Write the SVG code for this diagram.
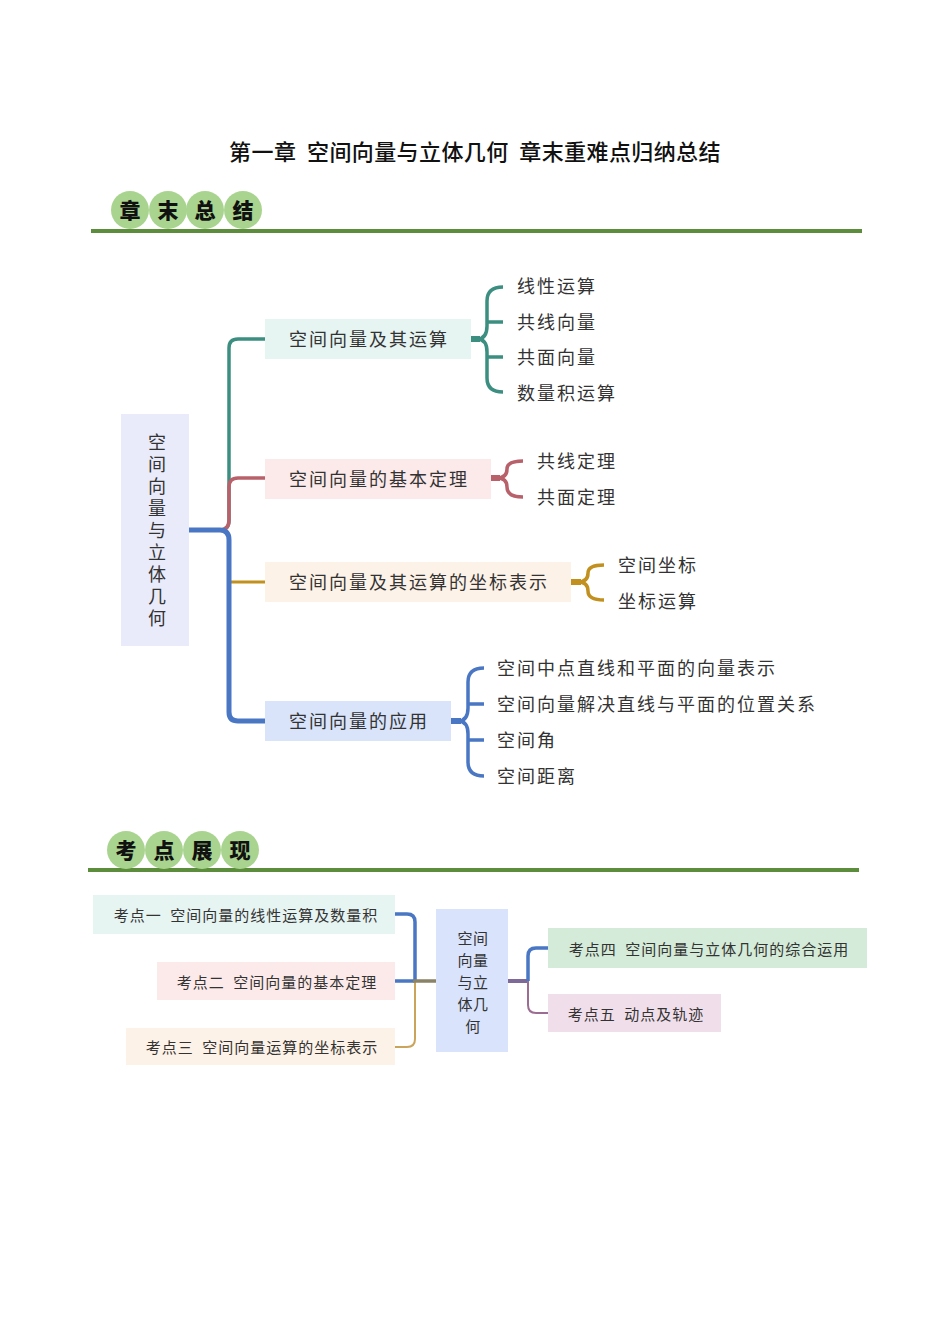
<svg xmlns="http://www.w3.org/2000/svg" width="950" height="1344" viewBox="0 0 950 1344">
<style>
text{font-family:"Noto Sans CJK SC","Noto Sans",sans-serif;fill:#333;dominant-baseline:central;white-space:pre}
.title{font-size:22px;fill:#111;font-weight:500;letter-spacing:0.4px}
.hd{font-size:21px;font-weight:900;fill:#111;text-anchor:middle}
.circ{fill:#a9d48f}
.rule{stroke:#5b8d3c;stroke-width:4}
.t18{font-size:18px;letter-spacing:2px}
.mid{text-anchor:middle}
.t15{font-size:15px;letter-spacing:1px;text-anchor:middle}
.t16{font-size:15px;letter-spacing:0.5px;text-anchor:middle}
.vert{font-size:18px;letter-spacing:4px;writing-mode:vertical-rl;text-orientation:upright}
.c{fill:none;stroke-linecap:butt;stroke-linejoin:round}
.g{stroke:#3b8e80}
.r{stroke:#b9616b}
.y{stroke:#c2901f}
.b{stroke:#4a77c3}
</style>
<rect width="950" height="1344" fill="#fff"/>
<text class="title" x="475" y="150" text-anchor="middle">第一章  空间向量与立体几何  章末重难点归纳总结</text>

<g id="header1">
<line class="rule" x1="91" y1="231" x2="862" y2="231"/>
<circle class="circ" cx="130" cy="210" r="19"/>
<circle class="circ" cx="168" cy="210" r="19"/>
<circle class="circ" cx="205" cy="210" r="19"/>
<circle class="circ" cx="243" cy="210" r="19"/>
<text class="hd" x="130" y="209">章</text>
<text class="hd" x="168" y="209">末</text>
<text class="hd" x="205" y="209">总</text>
<text class="hd" x="243" y="209">结</text>
</g>

<g id="connectors-top">
<path class="c g" stroke-width="3.5" d="M220 530 Q229 530 229 520 V348 Q229 339 238 339 H266"/>
<path class="c r" stroke-width="3.5" d="M220 530 Q229 530 229 520 V487 Q229 478 238 478 H266"/>
<path class="c y" stroke-width="3" d="M229 582 H266"/>
<path class="c b" stroke-width="5" d="M189 530 H220 Q229 530 229 540 V712 Q229 721 238 721 H266"/>
<path class="c g" stroke-width="6" d="M470 339 H480"/>
<path class="c g" stroke-width="3.5" d="M503 287 Q487 287 487 301 V326 Q487 339 477 339 Q487 339 487 352 V378 Q487 392 503 392 M487 322 H503 M487 357 H503"/>
<path class="c r" stroke-width="6" d="M490 478 H500"/>
<path class="c r" stroke-width="3.5" d="M523 461 Q507 461 507 469 Q507 478 497 478 Q507 478 507 487 Q507 497 523 497"/>
<path class="c y" stroke-width="6" d="M571 582 H581"/>
<path class="c y" stroke-width="3.5" d="M604 565 Q588 565 588 573 Q588 582 578 582 Q588 582 588 591 Q588 600 604 600"/>
<path class="c b" stroke-width="6" d="M450 721 H461"/>
<path class="c b" stroke-width="3.5" d="M484 668 Q468 668 468 682 V708 Q468 721 458 721 Q468 721 468 734 V762 Q468 776 484 776 M468 704 H484 M468 740 H484"/>
</g>

<g id="root">
<rect x="121" y="414" width="68" height="232" fill="#e9ebfb"/>
<text class="vert" x="157" y="433">空间向量与立体几何</text>
</g>

<g id="n1">
<rect x="265" y="319" width="206" height="40" fill="#e6f4f2"/>
<text class="t18 mid" x="369" y="338">空间向量及其运算</text>
</g>
<g id="n2">
<rect x="265" y="459" width="226" height="40" fill="#fceaea"/>
<text class="t18 mid" x="379" y="478">空间向量的基本定理</text>
</g>
<g id="n3">
<rect x="265" y="562" width="306" height="40" fill="#fdf2e7"/>
<text class="t18 mid" x="419" y="581">空间向量及其运算的坐标表示</text>
</g>
<g id="n4">
<rect x="265" y="701" width="186" height="40" fill="#d9e4fa"/>
<text class="t18 mid" x="359" y="720">空间向量的应用</text>
</g>

<g id="leaves1">
<text class="t18" x="517" y="285">线性运算</text>
<text class="t18" x="517" y="321">共线向量</text>
<text class="t18" x="517" y="356">共面向量</text>
<text class="t18" x="517" y="392">数量积运算</text>
</g>
<g id="leaves2">
<text class="t18" x="537" y="460">共线定理</text>
<text class="t18" x="537" y="496">共面定理</text>
</g>
<g id="leaves3">
<text class="t18" x="618" y="564">空间坐标</text>
<text class="t18" x="618" y="600">坐标运算</text>
</g>
<g id="leaves4">
<text class="t18" x="497" y="667">空间中点直线和平面的向量表示</text>
<text class="t18" x="497" y="703">空间向量解决直线与平面的位置关系</text>
<text class="t18" x="497" y="739">空间角</text>
<text class="t18" x="497" y="775">空间距离</text>
</g>

<g id="header2">
<line class="rule" x1="88" y1="870" x2="859" y2="870"/>
<circle class="circ" cx="126" cy="850" r="19"/>
<circle class="circ" cx="164" cy="850" r="19"/>
<circle class="circ" cx="202" cy="850" r="19"/>
<circle class="circ" cx="240" cy="850" r="19"/>
<text class="hd" x="126" y="849">考</text>
<text class="hd" x="164" y="849">点</text>
<text class="hd" x="202" y="849">展</text>
<text class="hd" x="240" y="849">现</text>
</g>

<g id="connectors-bottom">
<path class="c b" stroke-width="3.5" d="M395 914 H407 Q415 914 415 922 V981"/>
<path class="c b" stroke-width="3.5" d="M395 981 H415"/>
<path class="c" stroke="#caa45a" stroke-width="2" d="M395 1047 H407 Q415 1047 415 1039 V981"/>
<path class="c" stroke="#8a8266" stroke-width="3.5" d="M413 981 H436"/>
<path class="c" stroke="#7e6a98" stroke-width="4" d="M508 981 H529"/>
<path class="c b" stroke-width="3.5" d="M528 981 V956 Q528 948 536 948 H548"/>
<path class="c" stroke="#9c6c92" stroke-width="2" d="M528 981 V1005 Q528 1013 536 1013 H548"/>
</g>

<g id="kA">
<rect x="93" y="895" width="302" height="39" fill="#e6f4f2"/>
<text class="t15" x="246" y="914">考点一  空间向量的线性运算及数量积</text>
</g>
<g id="kB">
<rect x="157" y="962" width="238" height="38" fill="#fceaea"/>
<text class="t15" x="277" y="981">考点二  空间向量的基本定理</text>
</g>
<g id="kC">
<rect x="126" y="1028" width="269" height="37" fill="#fdf2e7"/>
<text class="t15" x="262" y="1046">考点三  空间向量运算的坐标表示</text>
</g>
<g id="kCenter">
<rect x="436" y="909" width="72" height="143" fill="#d9e3fb"/>
<text class="t16"><tspan x="473" y="937">空间</tspan><tspan x="473" y="959">向量</tspan><tspan x="473" y="981">与立</tspan><tspan x="473" y="1003">体几</tspan><tspan x="473" y="1025">何</tspan></text>
</g>
<g id="kD">
<rect x="548" y="928" width="319" height="40" fill="#d3ebd8"/>
<text class="t15" x="709" y="948">考点四  空间向量与立体几何的综合运用</text>
</g>
<g id="kE">
<rect x="548" y="994" width="173" height="38" fill="#f0dfeb"/>
<text class="t15" x="636" y="1013">考点五  动点及轨迹</text>
</g>
</svg>
